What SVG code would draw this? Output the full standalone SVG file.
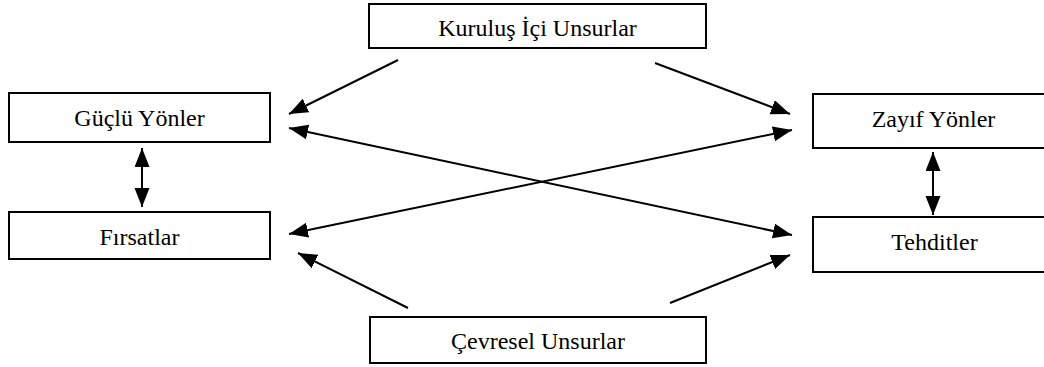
<svg xmlns="http://www.w3.org/2000/svg" width="1044" height="367" viewBox="0 0 1044 367">
<style>
.box{fill:#fff;stroke:#000;stroke-width:2}
.lbl{font-family:'Liberation Serif','Times New Roman','DejaVu Serif',serif;font-size:24px;fill:#000;text-anchor:middle}
.con{stroke:#000;stroke-width:2;fill:none}
</style>
<defs>
<marker id="ah" markerUnits="userSpaceOnUse" markerWidth="20" markerHeight="16" refX="19" refY="7.5" orient="auto-start-reverse" viewBox="0 0 20 16">
<path d="M0,0 L19,7.5 L0,15 z" fill="#000"/>
</marker>
</defs>
<rect width="1044" height="367" fill="#fff"/>
<g id="connectors">
<line class="con" x1="398" y1="60" x2="289" y2="114" marker-end="url(#ah)"/>
<line class="con" x1="655" y1="63" x2="790" y2="114" marker-end="url(#ah)"/>
<line class="con" x1="289" y1="128" x2="792" y2="235" marker-start="url(#ah)" marker-end="url(#ah)"/>
<line class="con" x1="289" y1="234" x2="792" y2="130" marker-start="url(#ah)" marker-end="url(#ah)"/>
<line class="con" x1="408" y1="308" x2="298" y2="253" marker-end="url(#ah)"/>
<line class="con" x1="670" y1="303" x2="790" y2="255" marker-end="url(#ah)"/>
<line class="con" x1="142" y1="148" x2="142" y2="207" marker-start="url(#ah)" marker-end="url(#ah)"/>
<line class="con" x1="933" y1="152" x2="933" y2="215" marker-start="url(#ah)" marker-end="url(#ah)"/>
</g>
<g id="kurulus">
<rect class="box" x="369" y="4" width="337" height="44"/>
<text class="lbl" x="537.5" y="36" font-family="Liberation Serif, serif">Kuruluş İçi Unsurlar</text>
</g>
<g id="guclu">
<rect class="box" x="9" y="93" width="261" height="49"/>
<text class="lbl" x="139.5" y="126" font-family="Liberation Serif, serif">Güçlü Yönler</text>
</g>
<g id="firsatlar">
<rect class="box" x="9" y="212" width="261" height="47"/>
<text class="lbl" x="139.5" y="245" font-family="Liberation Serif, serif">Fırsatlar</text>
</g>
<g id="zayif">
<rect class="box" x="813" y="94" width="241" height="54"/>
<text class="lbl" x="933.5" y="127" font-family="Liberation Serif, serif">Zayıf Yönler</text>
</g>
<g id="tehditler">
<rect class="box" x="813" y="217" width="241" height="55"/>
<text class="lbl" x="934.5" y="250" font-family="Liberation Serif, serif">Tehditler</text>
</g>
<g id="cevresel">
<rect class="box" x="370" y="317" width="336" height="46"/>
<text class="lbl" x="538" y="349" font-family="Liberation Serif, serif">Çevresel Unsurlar</text>
</g>
</svg>
